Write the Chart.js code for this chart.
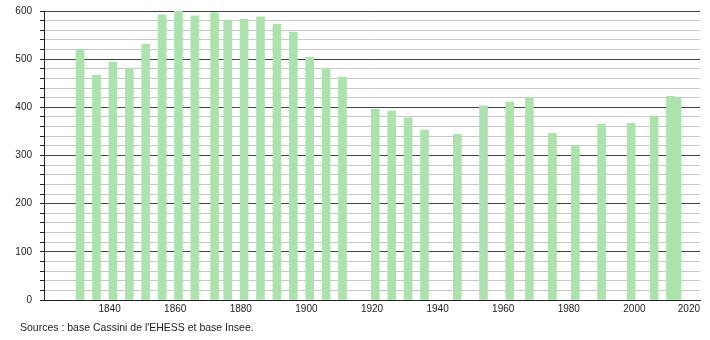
<!DOCTYPE html>
<html>
<head>
<meta charset="utf-8">
<script src="https://cdn.jsdelivr.net/npm/chart.js@4.4.1/dist/chart.umd.min.js"></script>
<style>
    body { margin: 0; background: #fff; }
    #wrap { position: relative; width: 710px; height: 340px; }
    #source {
        position: absolute; left: 20px; top: 321px;
        font: 10.5px "Liberation Sans", Arial, sans-serif; color: #222;
    }
</style>
</head>
<body>
<div id="wrap">
    <canvas id="popChart" width="710" height="340"></canvas>
    <div id="source">Sources : base Cassini de l'EHESS et base Insee.</div>
</div>
<script>
// census years and population
const years = [1831, 1836, 1841, 1846, 1851, 1856, 1861, 1866, 1872, 1876,
    1881, 1886, 1891, 1896, 1901, 1906, 1911, 1921, 1926, 1931,
    1936, 1946, 1954, 1962, 1968, 1975, 1982, 1990, 1999, 2006,
    2011, 2013];
const population = [520, 467, 494, 481, 531, 592, 601, 590, 596, 581,
    583, 588, 573, 556, 504, 481, 463, 396, 392, 378,
    353, 344, 403, 411, 421, 346, 321, 365, 367, 382,
    423, 421];
const yTicks = [0, 100, 200, 300, 400, 500, 600];
const xTicks = [1820, 1840, 1860, 1880, 1900, 1920, 1940, 1960, 1980, 2000, 2020];

const points = years.map((y, i) => ({ x: y, y: population[i] }));

const ctx = document.getElementById('popChart').getContext('2d');
const chart = new Chart(ctx, {
    type: 'bar',
    data: {
        datasets: [{
            data: points,
            backgroundColor: 'rgb(172, 226, 172)',
            borderWidth: 0,
            barThickness: 8
        }]
    },
    options: {
        responsive: false,
        animation: false,
        layout: { padding: { top: 11, right: 10, bottom: 20, left: 0 } },
        plugins: { legend: { display: false }, tooltip: { enabled: false } },
        scales: {
            x: {
                type: 'linear',
                min: 1820,
                max: 2020,
                offset: false,
                afterBuildTicks: scale => {
                    scale.ticks = xTicks.map(v => ({ value: v }));
                },
                afterFit: scale => {
                    scale.height = 20;
                    scale.paddingLeft = 0;
                    scale.paddingRight = 0;
                },
                grid: { display: false, drawTicks: false, offset: false },
                border: { color: '#222', width: 1 },
                ticks: {
                    padding: 3,
                    align: 'inner',
                    color: '#222',
                    font: { family: 'Liberation Sans', size: 10 },
                    maxRotation: 0,
                    autoSkip: false,
                    // first tick (1820) has no label in the original
                    callback: v => v === 1820 ? '' : String(v)
                }
            },
            y: {
                min: 0,
                max: 600,
                afterBuildTicks: scale => {
                    const t = [];
                    for (let v = 0; v <= 600; v += 20) t.push({ value: v });
                    scale.ticks = t;
                },
                afterFit: scale => {
                    scale.width = 44;
                    scale.paddingTop = 0;
                    scale.paddingBottom = 0;
                },
                border: { color: '#222', width: 1 },
                grid: {
                    color: c => (c.tick && c.tick.value % 100 === 0) ? '#444' : '#c8c8c8',
                    tickColor: '#222',
                    tickLength: 4,
                    lineWidth: 1
                },
                ticks: {
                    padding: 8,
                    color: '#222',
                    font: { family: 'Liberation Sans', size: 10 },
                    autoSkip: false,
                    callback: v => yTicks.includes(v) ? String(v) : ''
                }
            }
        }
    }
});
</script>
</body>
</html>
